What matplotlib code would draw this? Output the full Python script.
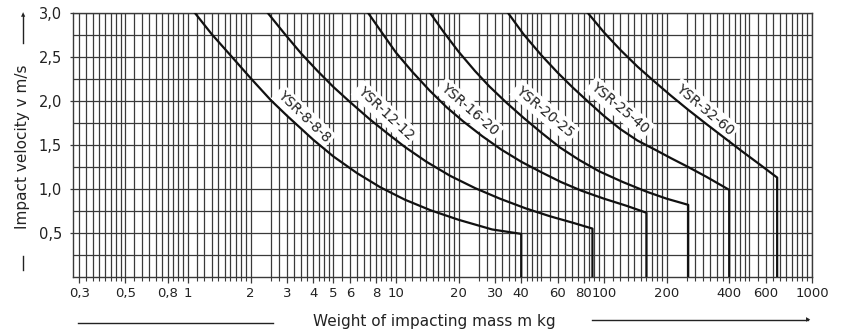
import numpy as np
import matplotlib
matplotlib.use("Agg")
import matplotlib.pyplot as plt
from matplotlib.lines import Line2D

plt.rcParams['font.family'] = ['DejaVu Sans']

# values: mass m in kg, impact velocity v in m/s
names = ["YSR-8-8-8", "YSR-12-12", "YSR-16-20", "YSR-20-25", "YSR-25-40", "YSR-32-60"]

m_8 = [1.08, 1.3, 1.6, 2.0, 2.5, 3.0, 4.0, 5.0, 6.5, 8.4, 11, 14.6, 20, 29, 40]
v_8 = [3.0, 2.76, 2.52, 2.26, 2.01, 1.83, 1.56, 1.37, 1.18, 1.02, 0.88, 0.76, 0.65, 0.54, 0.49]

m_12 = [2.42, 2.9, 3.5, 4.2, 5.0, 6.0, 7.5, 9.0, 11, 14, 18.2, 24, 31.6, 42, 55, 70, 88]
v_12 = [3.0, 2.77, 2.54, 2.34, 2.16, 1.99, 1.79, 1.64, 1.48, 1.31, 1.15, 1.01, 0.89, 0.78, 0.69, 0.62, 0.55]

m_16 = [7.35, 8.6, 10, 12, 14.5, 17.5, 21, 26, 32, 40, 50, 62, 78, 100, 128, 160]
v_16 = [3.0, 2.77, 2.55, 2.33, 2.12, 1.93, 1.77, 1.6, 1.45, 1.31, 1.19, 1.08, 0.98, 0.89, 0.81, 0.73]

m_20 = [14.6, 17, 20, 24, 28, 34, 41, 50, 61.6, 76, 95, 123, 160, 200, 254]
v_20 = [3.0, 2.78, 2.56, 2.34, 2.17, 1.98, 1.81, 1.64, 1.47, 1.33, 1.2, 1.08, 0.97, 0.89, 0.82]

m_25 = [34.6, 41, 50, 60, 71, 85, 100, 120, 145, 175, 210, 254, 310, 400]
v_25 = [3.0, 2.76, 2.52, 2.32, 2.15, 1.98, 1.83, 1.68, 1.55, 1.45, 1.35, 1.25, 1.14, 0.99]

m_32 = [83.7, 100, 120, 145, 175, 210, 254, 310, 380, 460, 560, 680]
v_32 = [3.0, 2.78, 2.58, 2.39, 2.22, 2.06, 1.9, 1.74, 1.58, 1.43, 1.28, 1.13]

masses = [m_8, m_12, m_16, m_20, m_25, m_32]
speeds = [v_8, v_12, v_16, v_20, v_25, v_32]

# label anchor beside each curve
label_m = [3.6, 8.9, 22.5, 52, 119, 305]
label_v = [1.82, 1.86, 1.90, 1.88, 1.92, 1.90]
label_rot = [-44, -43, -41, -40, -40, -40]

xtick_vals = [0.3, 0.5, 0.8, 1, 2, 3, 4, 5, 6, 8, 10, 20, 30, 40, 60, 80, 100, 200, 400, 600, 1000]
xtick_text = ["0,3", "0,5", "0,8", "1", "2", "3", "4", "5", "6", "8", "10", "20", "30", "40",
              "60", "80", "100", "200", "400", "600", "1000"]
ytick_vals = [0.5, 1.0, 1.5, 2.0, 2.5, 3.0]
ytick_text = ["0,5", "1,0", "1,5", "2,0", "2,5", "3,0"]

# log paper rulings inside one decade
sub = np.concatenate([np.arange(1.0, 2.01, 0.1), np.arange(2.5, 5.0, 0.25), np.arange(5.0, 10.0, 0.5)])
xmin, xmax = 0.28, 1000
grid_x = [d * s for d in (0.1, 1, 10, 100, 1000) for s in sub]
grid_x = [g for g in grid_x if xmin * 1.01 <= g <= xmax * 1.001]
grid_y = np.arange(0.25, 3.01, 0.25)

fig = plt.figure(figsize=(8.46, 3.34), dpi=100)
ax = fig.add_axes([0.0863, 0.1707, 0.8735, 0.7903])

gc = "#3a3a3a"
ax.vlines(grid_x, 0, 3.0, color=gc, lw=0.9, zorder=1)
ax.hlines(grid_y, xmin, xmax, color=gc, lw=0.9, zorder=1)

for m, v, name, lm, lv, lr in zip(masses, speeds, names, label_m, label_v, label_rot):
    ax.plot(m + [m[-1]], v + [0], color="#111111", lw=1.6, zorder=5)
    ax.text(lm, lv, name, rotation=lr, rotation_mode="anchor", ha="center", va="center",
            fontsize=10, color="#222222", zorder=4,
            bbox=dict(boxstyle="square,pad=0.2", fc="white", ec="none"))

ax.set_xscale("log")
ax.set_xlim(xmin, xmax)
ax.set_ylim(0, 3.0)
ax.set_xticks(xtick_vals, xtick_text)
ax.set_xticks(grid_x, minor=True)
ax.set_xticklabels([], minor=True)
ax.set_yticks(ytick_vals, ytick_text)
ax.set_yticks([], minor=True)
ax.tick_params(axis="x", which="major", length=4, width=0.9, color=gc, labelsize=9.5, pad=3, labelcolor="#222222")
ax.tick_params(axis="x", which="minor", length=3, width=0.8, color=gc)
ax.tick_params(axis="y", length=2, width=0.9, color=gc, labelsize=10.5, pad=6, labelcolor="#222222")
for s in ax.spines.values():
    s.set_color(gc)
    s.set_linewidth(1.0)

# axis titles with the arrows of the original drawing
fig.text(0.027, 0.56, "Impact velocity v m/s", rotation=90, ha="center", va="center",
         fontsize=11, color="#222222")
fig.add_artist(Line2D([0.027, 0.027], [0.192, 0.234], color="#222222", lw=1.0))
fig.add_artist(Line2D([0.027, 0.027], [0.87, 0.955], color="#222222", lw=1.0))
fig.text(0.027, 0.955, "\u25B2", ha="center", va="center", fontsize=4, color="#222222")

fig.text(0.513, 0.036, "Weight of impacting mass m kg", ha="center", va="center",
         fontsize=11, color="#222222")
fig.add_artist(Line2D([0.092, 0.323], [0.033, 0.033], color="#222222", lw=1.0))
fig.add_artist(Line2D([0.700, 0.955], [0.042, 0.042], color="#222222", lw=1.0))
fig.text(0.955, 0.042, "\u25B6", ha="center", va="center", fontsize=4, color="#222222")

fig.savefig("out.png", dpi=100)
